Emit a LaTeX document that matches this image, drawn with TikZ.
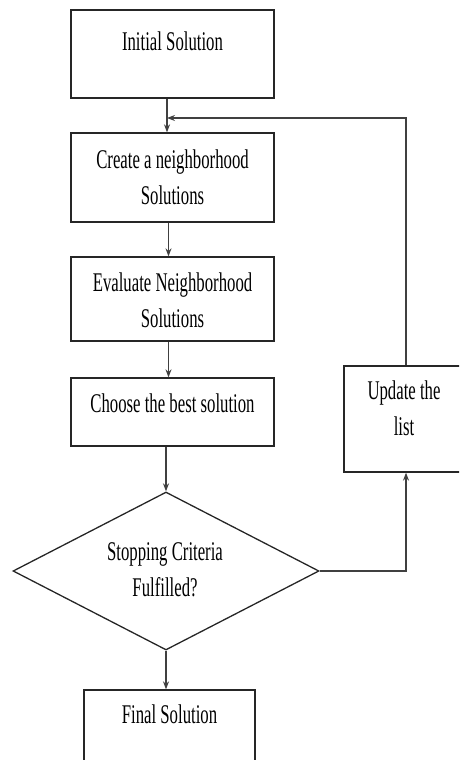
\documentclass[tikz,border=0pt]{standalone}
\usepackage{fontspec}
\setmainfont[FakeStretch=0.62]{Liberation Serif}
\usetikzlibrary{arrows.meta,shapes.geometric}
\tikzset{
  stepbox/.style={draw=black!85, line width=1.3pt, minimum width=203pt, inner sep=0pt},
  boxtext/.style={align=center, anchor=base, inner sep=0pt, font=\fontsize{27}{36}\selectfont},
  arrow/.style={draw=black!75, line width=1.2pt, -{Stealth[length=8pt,width=6pt]}}
}

\begin{document}
\begin{tikzpicture}[x=1pt, y=-1pt]
    \useasboundingbox (0,0) rectangle (459,760);
    \clip (0,0) rectangle (459,760);

    % Main column
    \node[stepbox, minimum height=88pt] (init) at (172.5,54) {};
    \node[stepbox, minimum height=89pt] (create) at (172.5,177.5) {};
    \node[stepbox, minimum height=84pt] (evaluate) at (172.5,299) {};
    \node[stepbox, minimum height=68pt] (choose) at (172.5,412) {};
    \node[draw=black!85, line width=1.3pt, diamond, inner sep=0pt,
          minimum width=306pt, minimum height=158pt] (dia) at (166,571) {};
    \node[stepbox, minimum width=171pt, minimum height=100pt] (final) at (169.5,740) {};

    % Side box
    \node[stepbox, minimum width=124pt, minimum height=106pt] (update) at (406,419) {};

    % Texts (base = last line)
    \node[boxtext] (initText) at (172.5,51) {Initial Solution};
    \node[boxtext] (createText) at (172.5,204) {Create a neighborhood\\Solutions};
    \node[boxtext] (evaluateText) at (172.5,327) {Evaluate Neighborhood\\Solutions};
    \node[boxtext] (chooseText) at (172.5,412) {Choose the best solution};
    \node[boxtext] (diaText) at (165,596) {Stopping Criteria\\Fulfilled?};
    \node[boxtext] (updateText) at (404,435) {Update the\\list};
    \node[boxtext] (finalText) at (169.5,723) {Final Solution};

    % Arrows
    \coordinate (merge) at (167,118);
    \draw[arrow] (init.south -| merge) -- (create.north -| merge);
    \foreach \a/\b in {create/evaluate, evaluate/choose}
        \draw[arrow] ([xshift=-4pt]\a.south) -- ([xshift=-4pt]\b.north);
    \draw[arrow] (choose.south -| dia.north) -- (dia.north);
    \draw[arrow] (dia.south) -- (final.north -| dia.south);

    % Loop back
    \draw[arrow] (dia.east) -| (update.south);
    \draw[arrow] (update.north) |- (merge);
\end{tikzpicture}
\end{document}
